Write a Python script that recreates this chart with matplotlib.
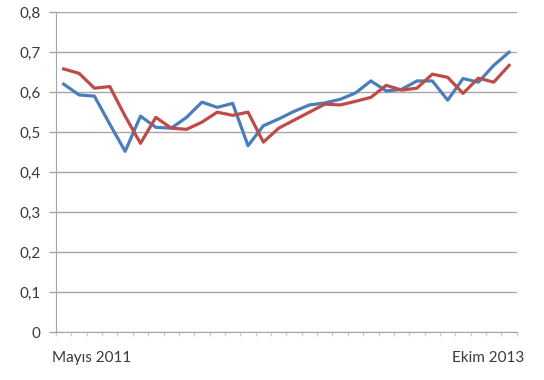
"""
Two monthly series, May 2011 - Oct 2013, Excel-style line chart.
"""

import numpy as np
from matplotlib import pyplot as plt
from matplotlib import transforms as mtrans

plt.rcParams['font.family'] = ['Lato', 'DejaVu Sans']

months = np.arange(30)  # Mayıs 2011 ... Ekim 2013
first_label = 'Mayıs 2011'
last_label = 'Ekim 2013'

blue = [0.620, 0.593, 0.590, 0.520, 0.452, 0.540, 0.512, 0.510, 0.537, 0.575,
        0.562, 0.572, 0.466, 0.516, 0.533, 0.552, 0.568, 0.573, 0.582, 0.598,
        0.628, 0.603, 0.607, 0.628, 0.628, 0.580, 0.634, 0.625, 0.667, 0.700]
red = [0.658, 0.647, 0.610, 0.614, 0.540, 0.472, 0.537, 0.510, 0.507, 0.525,
       0.550, 0.542, 0.550, 0.475, 0.510, 0.530, 0.550, 0.570, 0.568, 0.577,
       0.587, 0.617, 0.605, 0.610, 0.645, 0.637, 0.597, 0.635, 0.625, 0.667]

y_ticks = [0, 0.1, 0.2, 0.3, 0.4, 0.5, 0.6, 0.7, 0.8]
y_labels = ['0', '0,1', '0,2', '0,3', '0,4', '0,5', '0,6', '0,7', '0,8']

grid_col = '#a6a6a6'
text_col = '#3a3a3a'

fig = plt.figure(figsize=(5.44, 3.80), dpi=100)
ax = fig.add_axes([0.103, 0.126, 0.847, 0.842])

ax.plot(months, blue, color='#4a7ebb', lw=2.3, solid_joinstyle='round', zorder=3)
ax.plot(months, red, color='#be4b48', lw=2.3, solid_joinstyle='round', zorder=3)

ax.set_xlim(-0.5, 29.5)
ax.set_ylim(0, 0.8)
ax.set_yticks(y_ticks)
ax.set_yticklabels(y_labels)
ax.grid(axis='y', color=grid_col, lw=1)
ax.set_axisbelow(True)

ax.set_xticks(np.arange(-0.5, 30, 1))
ax.set_xticklabels([])
ax.tick_params(axis='x', length=3, color='#d0d0d0', width=1)
ax.tick_params(axis='y', length=5, color=grid_col, width=1,
               labelsize=11, labelcolor=text_col, pad=6)

for side in ['top', 'right']:
    ax.spines[side].set_visible(False)
ax.spines['left'].set_color(grid_col)
ax.spines['bottom'].set_color(grid_col)

trans = mtrans.blended_transform_factory(ax.transData, ax.transAxes)
ax.text(-0.75, -0.08, first_label, transform=trans, ha='left', va='center',
        fontsize=11, color=text_col)
ax.text(30.0, -0.08, last_label, transform=trans, ha='right', va='center',
        fontsize=11, color=text_col)

plt.savefig('out.png', dpi=100)
plt.close()
